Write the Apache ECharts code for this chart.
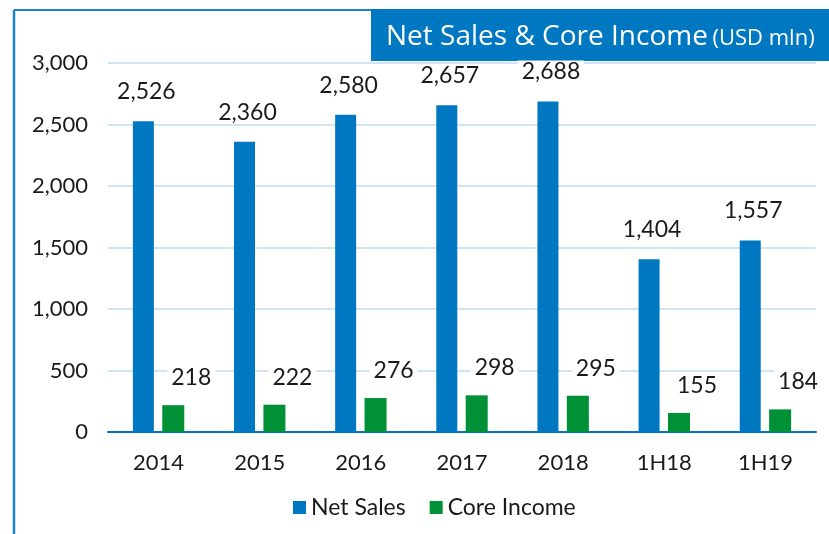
<!DOCTYPE html>
<html lang="en">
<head>
    <meta charset="UTF-8">
    <title>Net Sales & Core Income</title>
    <script src="https://cdn.jsdelivr.net/npm/echarts@6/dist/echarts.min.js"></script>
    <style>
        html, body { margin: 0; padding: 0; background: #fff; }
        #main { width: 829px; height: 534px; }
    </style>
</head>
<body>
    <div id="main"></div>
    <script>
        // data
        const categories = ['2014', '2015', '2016', '2017', '2018', '1H18', '1H19'];
        const netSales = [2526, 2360, 2580, 2657, 2688, 1404, 1557];
        const coreIncome = [218, 222, 276, 298, 295, 155, 184];
        const yTicks = [0, 500, 1000, 1500, 2000, 2500, 3000];

        const BLUE = '#0078c1';
        const GREEN = '#009035';
        const FONT = 'Lato';
        const TITLE_FONT = 'Open Sans';
        const fmt = v => v.toLocaleString('en-US');

        const myChart = echarts.init(document.getElementById('main'));

        const option = {
            animation: false,
            textStyle: { fontFamily: FONT, color: '#1a1a1a' },
            title: {
                text: '{a|Net Sales & Core Income} {b|(USD mln)}',
                left: 386,
                top: 19,
                padding: 0,
                textStyle: {
                    fontWeight: 'normal',
                    rich: {
                        a: { fontFamily: TITLE_FONT, fontSize: 28, fontWeight: 'normal', color: '#fff', lineHeight: 36 },
                        b: { fontFamily: TITLE_FONT, fontSize: 22, fontWeight: 'normal', color: '#fff', lineHeight: 36, padding: [3, 0, 0, 0] }
                    }
                }
            },
            // frame lines and title box
            graphic: [
                { type: 'rect', shape: { x: 371, y: 9, width: 460, height: 52 }, style: { fill: BLUE }, z: -1 },
                { type: 'line', shape: { x1: 14, y1: 10, x2: 371, y2: 10 }, style: { stroke: '#1a80cf', lineWidth: 2 } },
                { type: 'line', shape: { x1: 14, y1: 10, x2: 14, y2: 534 }, style: { stroke: '#1a80cf', lineWidth: 2.5 } }
            ],
            legend: {
                left: 288,
                top: 491,
                icon: 'rect',
                itemWidth: 13,
                itemHeight: 13,
                itemGap: 24,
                textStyle: { fontFamily: FONT, fontSize: 23, color: '#1a1a1a' },
                data: ['Net Sales', 'Core Income']
            },
            grid: { left: 108, right: 13, top: 63, bottom: 102 },
            xAxis: {
                type: 'category',
                data: categories,
                axisLine: { lineStyle: { color: BLUE, width: 2 } },
                axisTick: { show: false },
                axisLabel: { fontSize: 22, margin: 20, color: '#1a1a1a', fontFamily: FONT }
            },
            yAxis: {
                type: 'value',
                min: yTicks[0],
                max: yTicks[yTicks.length - 1],
                interval: yTicks[1] - yTicks[0],
                axisLine: { show: false },
                axisTick: { show: false },
                splitLine: { lineStyle: { color: '#d0e4f4', width: 2 } },
                axisLabel: { fontSize: 22, margin: 20, color: '#1a1a1a', fontFamily: FONT, formatter: fmt }
            },
            series: [
                {
                    name: 'Net Sales',
                    type: 'bar',
                    data: netSales,
                    barWidth: 21,
                    barGap: '40%',
                    itemStyle: { color: BLUE },
                    label: {
                        show: true,
                        position: 'top',
                        offset: [3, -13],
                        fontSize: 23,
                        color: '#1a1a1a',
                        fontFamily: FONT,
                        backgroundColor: '#fff',
                        padding: [0, 4],
                        formatter: p => fmt(p.value)
                    }
                },
                {
                    name: 'Core Income',
                    type: 'bar',
                    data: coreIncome,
                    barWidth: 22,
                    itemStyle: { color: GREEN },
                    label: {
                        show: true,
                        position: 'top',
                        offset: [18, -11],
                        fontSize: 23,
                        color: '#1a1a1a',
                        fontFamily: FONT,
                        backgroundColor: '#fff',
                        padding: [0, 4],
                        formatter: p => fmt(p.value)
                    }
                }
            ]
        };

        myChart.setOption(option);
    </script>
</body>
</html>
